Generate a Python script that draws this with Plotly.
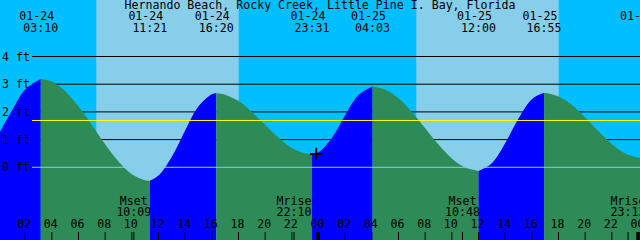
import plotly.graph_objects as go

TITLE = "Hernando Beach, Rocky Creek, Little Pine I. Bay, Florida"

# ---- data ----
# tide extremes (date, clock time, height in ft)
ext_dates = ["01-24", "01-24", "01-24", "01-24", "01-25", "01-25", "01-25", "01-26"]
ext_times = ["03:10", "11:21", "16:20", "23:31", "04:03", "12:00", "16:55", "00:13"]
ext_ft = [3.19, -0.49, 2.67, 0.47, 2.92, -0.13, 2.69, 0.34]

# tide height readings (hours since 01-24 00:00, ft)
read_h = [0, 1, 2, 4, 5, 6, 7, 8, 9, 10, 11, 12, 13, 14, 15, 16, 17, 18, 19, 20,
          21, 22, 23, 24, 25, 26, 27, 29, 30, 31, 32, 33, 34, 35, 37, 38, 39, 40,
          42, 43, 44, 45, 46, 47, 48]
read_ft = [1.18, 2.04, 2.81, 3.10, 2.75, 2.20, 1.53, 0.83, 0.21, -0.25, -0.47,
           -0.30, 0.38, 1.33, 2.20, 2.64, 2.62, 2.39, 2.00, 1.53, 1.07, 0.70, 0.50,
           0.54, 1.06, 1.88, 2.61, 2.81, 2.49, 2.00, 1.41, 0.82, 0.32, -0.01,
           0.15, 0.87, 1.76, 2.46, 2.56, 2.25, 1.80, 1.30, 0.84, 0.50, 0.35]

mean_level_ft = 1.69

sunrise = ["01-24 07:20", "01-25 07:20"]
sunset = ["01-24 18:01", "01-25 18:01"]

moon_kind = ["Mset", "Mrise", "Mset", "Mrise"]
moon_time = ["01-24 10:09", "01-24 22:10", "01-25 10:48", "01-25 23:13"]

now_time = "01-24 23:50"
now_ft = 0.48

ft_levels = [0, 1, 2, 3, 4]
ft_labels = ["0 ft", "1 ft", "2 ft", "3 ft", "4 ft"]

hour_ticks = list(range(0, 49, 2))
hour_labels = [f"{h % 24:02d}" for h in hour_ticks]
day_ticks = [24, 48]

# ---- helpers ----
def to_h(date, clock):
    day = int(date.split("-")[1]) - 24
    hh, mm = clock.split(":")
    return day * 24 + int(hh) + int(mm) / 60.0

def dt_h(s):
    d, c = s.split(" ")
    return to_h(d, c)

W, H = 640, 240
PXH = W / 48.0
X0 = 1.5 / PXH
XR = [X0, X0 + 48.0]
YR = [-2.625, 6.04]

def py2ft(py):
    return YR[1] - py / H * (YR[1] - YR[0])

ext_h = [to_h(d, t) for d, t in zip(ext_dates, ext_times)]

FONT = dict(family="DejaVu Sans Mono", size=11.6, color="black")
DEEP = "#00BFFF"
LIGHT = "#87CEEB"
FLOOD = "#0000FF"
EBB = "#2E8B57"

fig = go.Figure()

# tide fills, one per segment between extremes
pts = sorted(list(zip(read_h, read_ft)) + list(zip(ext_h, ext_ft)))
bounds = [read_h[0]] + ext_h
for i in range(len(ext_h)):
    a, b = bounds[i], bounds[i + 1]
    seg = [(x, y) for x, y in pts if a <= x <= b]
    rising = ext_ft[i] > (ext_ft[i - 1] if i > 0 else read_ft[0])
    col = FLOOD if rising else EBB
    fig.add_trace(go.Scatter(x=[a, b], y=[YR[0] - 1, YR[0] - 1], mode="lines",
                             line=dict(width=0), hoverinfo="skip", showlegend=False))
    fig.add_trace(go.Scatter(x=[p[0] for p in seg], y=[p[1] for p in seg], mode="lines",
                             line=dict(width=0, shape="spline", smoothing=1),
                             fill="tonexty", fillcolor=col, hoverinfo="skip",
                             showlegend=False))

# top labels (date / time of each extreme)
fig.add_trace(go.Scatter(x=[h - 4 / PXH for h in ext_h], y=[py2ft(17.2)] * len(ext_h),
                         mode="text", text=ext_dates, textfont=FONT,
                         textposition="middle center", cliponaxis=False,
                         showlegend=False, hoverinfo="skip"))
fig.add_trace(go.Scatter(x=ext_h, y=[py2ft(29.2)] * len(ext_h),
                         mode="text", text=ext_times, textfont=FONT,
                         textposition="middle center", cliponaxis=False,
                         showlegend=False, hoverinfo="skip"))

# moon labels
moon_h = [dt_h(s) for s in moon_time]
fig.add_trace(go.Scatter(x=moon_h, y=[py2ft(201.8)] * len(moon_h), mode="text",
                         text=moon_kind, textfont=FONT, textposition="middle center",
                         cliponaxis=False, showlegend=False, hoverinfo="skip"))
fig.add_trace(go.Scatter(x=moon_h, y=[py2ft(213.3)] * len(moon_h), mode="text",
                         text=[s.split(" ")[1] for s in moon_time], textfont=FONT,
                         textposition="middle center", cliponaxis=False,
                         showlegend=False, hoverinfo="skip"))

# hour labels
fig.add_trace(go.Scatter(x=[h - 1 / PXH for h in hour_ticks], y=[py2ft(225.5)] * len(hour_ticks),
                         mode="text", text=hour_labels, textfont=FONT,
                         textposition="middle center", cliponaxis=False,
                         showlegend=False, hoverinfo="skip"))

# title
fig.add_trace(go.Scatter(x=[X0 + 24.0], y=[py2ft(5.6)], mode="text", text=[TITLE],
                         textfont=FONT, textposition="middle center", cliponaxis=False,
                         showlegend=False, hoverinfo="skip"))

# current time mark
fig.add_trace(go.Scatter(x=[dt_h(now_time)], y=[now_ft], mode="markers",
                         marker=dict(symbol="cross-thin", size=9,
                                     line=dict(width=2, color="black")),
                         showlegend=False, hoverinfo="skip"))

shapes = []
for r, s in zip(sunrise, sunset):
    shapes.append(dict(type="rect", xref="x", yref="paper", x0=dt_h(r), x1=dt_h(s),
                       y0=0, y1=1, fillcolor=LIGHT, line=dict(width=0), layer="below"))
for lv in ft_levels[1:]:
    shapes.append(dict(type="line", xref="paper", yref="y", x0=32 / W, x1=1, y0=lv, y1=lv,
                       line=dict(color="black", width=1), layer="below"))
shapes.append(dict(type="line", xref="paper", yref="y", x0=32 / W, x1=1,
                   y0=ft_levels[0], y1=ft_levels[0], line=dict(color=LIGHT, width=1),
                   layer="above"))
shapes.append(dict(type="line", xref="paper", yref="y", x0=32 / W, x1=1,
                   y0=mean_level_ft, y1=mean_level_ft, line=dict(color="#FFFF00", width=1),
                   layer="above"))
for h in hour_ticks + moon_h:
    shapes.append(dict(type="line", xref="x", yref="paper", x0=h, x1=h, y0=0, y1=8 / H,
                       line=dict(color="black", width=1), layer="above"))
for h in day_ticks:
    shapes.append(dict(type="rect", xref="x", yref="paper", x0=h - 2.2 / PXH, x1=h + 1.3 / PXH,
                       y0=0, y1=8 / H, fillcolor="black", line=dict(width=0), layer="above"))

annotations = []
for lv, lab in zip(ft_levels, ft_labels):
    annotations.append(dict(text=lab, xref="paper", yref="y", x=0, y=lv, xanchor="left",
                            yanchor="middle", xshift=0, showarrow=False, font=FONT))

fig.update_layout(
    width=W, height=H, margin=dict(l=0, r=0, t=0, b=0),
    paper_bgcolor=DEEP, plot_bgcolor=DEEP,
    xaxis=dict(range=XR, visible=False, fixedrange=True),
    yaxis=dict(range=YR, visible=False, fixedrange=True),
    shapes=shapes, annotations=annotations, showlegend=False,
)

fig.write_html("out.html", config={"displayModeBar": False})
